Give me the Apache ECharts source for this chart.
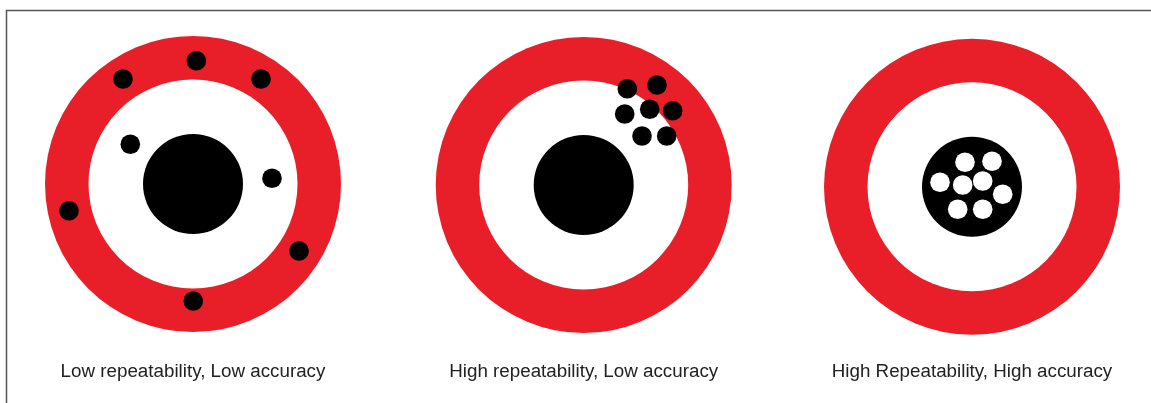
<!DOCTYPE html>
<html>
<head>
<meta charset="utf-8">
<style>
html,body{margin:0;padding:0;background:#fff;}
#chart{width:1151px;height:403px;}
</style>
<script src="https://cdn.jsdelivr.net/npm/echarts@6/dist/echarts.min.js"></script>
</head>
<body>
<div id="chart"></div>
<script>
// ---- data ----
const targetLabels = ['Low repeatability, Low accuracy', 'High repeatability, Low accuracy', 'High Repeatability, High accuracy'];
// ring radii (outer red, inner white, bull black), in target units
const ringRadii = [148, 104.5, 50];
const hitRadius = 9.8;
// hit offsets from target centre (x right, y up), in target units
const hitsLowLowX = [3.3, -70, 68, -62.7, 79, -124, 106, 0.3];
const hitsLowLowY = [123.3, 105, 105, 39.7, 5.7, -26.7, -67, -117];
const hitsHighLowX = [43.6, 73.3, 41, 66, 89, 58.3, 83];
const hitsHighLowY = [96.3, 100, 71, 75.7, 74.3, 49, 49];
const hitsHighHighX = [-7, 20, -32, -9.3, 10.7, 30.7, -14.3, 10.7];
const hitsHighHighY = [24.5, 25.5, 4.5, 1.8, 5.8, -7.5, -22.5, -22.5];

// ---- layout / style ----
const centers = [[193, 184], [583.7, 185], [972, 186.8]];
const labelY = 371.5;
const half = 150;
const RED = '#e81f29';
const ringColors = [RED, '#ffffff', '#000000'];
const hitColors = ['#000000', '#000000', '#ffffff'];
const hitsX = [hitsLowLowX, hitsHighLowX, hitsHighHighX];
const hitsY = [hitsLowLowY, hitsHighLowY, hitsHighHighY];

function circleItem(params, api) {
  const c = api.coord([api.value(0), api.value(1)]);
  const r = api.size([api.value(2), 0])[0];
  return {
    type: 'circle',
    shape: { cx: c[0], cy: c[1], r: r },
    style: { fill: api.visual('color') }
  };
}

const grids = [], xAxes = [], yAxes = [], series = [], graphics = [];
centers.forEach(function (c, i) {
  grids.push({ left: c[0] - half, top: c[1] - half, width: 2 * half, height: 2 * half, containLabel: false });
  xAxes.push({ type: 'value', gridIndex: i, min: -half, max: half, show: false });
  yAxes.push({ type: 'value', gridIndex: i, min: -half, max: half, show: false });
  series.push({
    type: 'custom', xAxisIndex: i, yAxisIndex: i, silent: true, animation: false,
    renderItem: circleItem,
    data: ringRadii.map(function (r, k) {
      return { value: [0, 0, r], itemStyle: { color: ringColors[k] } };
    })
  });
  series.push({
    type: 'custom', xAxisIndex: i, yAxisIndex: i, silent: true, animation: false,
    renderItem: circleItem,
    itemStyle: { color: hitColors[i] },
    data: hitsX[i].map(function (x, k) { return [x, hitsY[i][k], hitRadius]; })
  });
  graphics.push({
    type: 'text', x: c[0], y: labelY, silent: true,
    style: {
      text: targetLabels[i],
      fill: '#222',
      font: '18.8px "Liberation Sans", Arial, sans-serif',
      textAlign: 'center', textVerticalAlign: 'middle',
      align: 'center', verticalAlign: 'middle'
    }
  });
});
graphics.push({
  type: 'rect', silent: true,
  shape: { x: 6.5, y: 10.5, width: 1300, height: 600 },
  style: { fill: 'none', stroke: '#555', lineWidth: 1.5 }
});

const chart = echarts.init(document.getElementById('chart'));
chart.setOption({
  backgroundColor: '#fff',
  animation: false,
  grid: grids,
  xAxis: xAxes,
  yAxis: yAxes,
  series: series,
  graphic: graphics
});
</script>
</body>
</html>
